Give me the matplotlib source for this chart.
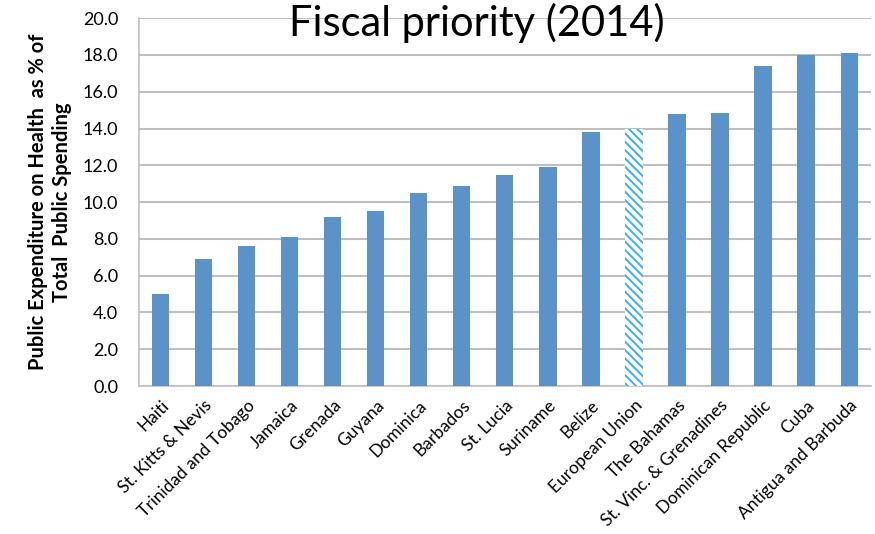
import matplotlib
matplotlib.use("Agg")
import matplotlib.pyplot as plt

plt.rcParams['font.family'] = ['Lato', 'DejaVu Sans']
plt.rcParams['hatch.linewidth'] = 1.5

countries = ["Haiti", "St. Kitts & Nevis", "Trinidad and Tobago", "Jamaica",
             "Grenada", "Guyana", "Dominica", "Barbados", "St. Lucia",
             "Suriname", "Belize", "European Union", "The Bahamas",
             "St. Vinc. & Grenadines", "Dominican Republic", "Cuba",
             "Antigua and Barbuda"]
health_share = [5.0, 6.9, 7.6, 8.1, 9.2, 9.5, 10.5, 10.9, 11.5,
                11.9, 13.8, 14.0, 14.8, 14.85, 17.4, 18.0, 18.1]
highlight = "European Union"
yticks = [0, 2, 4, 6, 8, 10, 12, 14, 16, 18, 20]

fig = plt.figure(figsize=(8.75, 5.34), dpi=100)
ax = fig.add_axes([0.159, 0.277, 0.836, 0.689])

bars = ax.bar(range(len(countries)), health_share, width=0.4,
              color="#5B93C8", zorder=3)
for b, name in zip(bars, countries):
    if name == highlight:
        b.set_facecolor("white")
        b.set_edgecolor("#45B2EA")
        b.set_hatch("\\\\\\\\")
        b.set_linewidth(0)

ax.set_ylim(0, 20)
ax.set_xlim(-0.5, len(countries) - 0.5)
ax.set_yticks(yticks)
ax.set_yticklabels([f"{v:.1f}" for v in yticks], fontsize=13)
ax.set_xticks(range(len(countries)))
ax.set_xticklabels(countries, rotation=45, ha="right",
                   rotation_mode="anchor", fontsize=12.5)
ax.tick_params(length=0)
ax.tick_params(axis="y", pad=15)
ax.tick_params(axis="x", pad=8)

ax.yaxis.grid(True, color="#BFBFBF", linewidth=1.5, zorder=0)
for s in ["top", "right"]:
    ax.spines[s].set_visible(False)
for s in ["left", "bottom"]:
    ax.spines[s].set_color("#BFBFBF")
    ax.spines[s].set_linewidth(1.2)

ax.set_ylabel("Public Expenditure on Health  as % of\nTotal  Public Spending",
              fontsize=14.5, fontweight="bold", labelpad=8)
fig.text(0.545, 0.995, "Fiscal priority (2014)", fontsize=30,
         ha="center", va="top")

fig.savefig("out.png", dpi=100)
